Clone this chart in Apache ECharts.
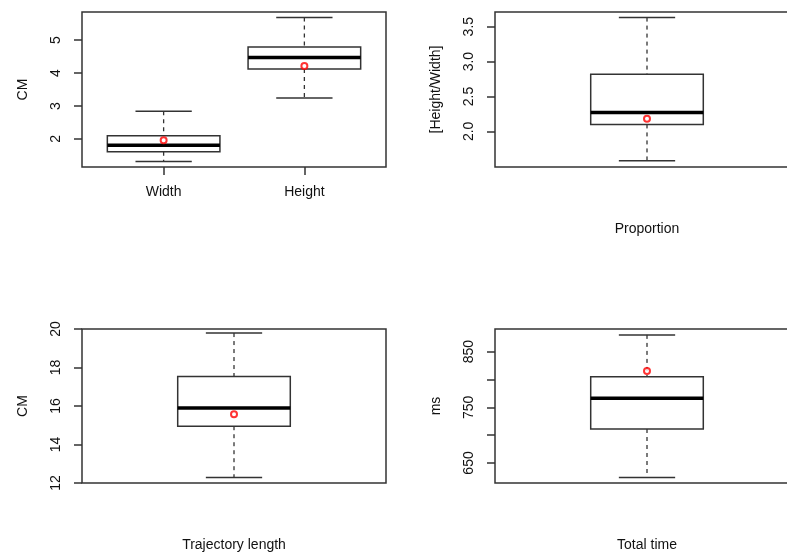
<!DOCTYPE html>
<html>
<head>
<meta charset="utf-8">
<script src="https://cdn.jsdelivr.net/npm/echarts@6/dist/echarts.min.js"></script>
<style>
  html, body { margin: 0; background: #fff; }
  #chart { width: 787px; height: 559px; }
</style>
</head>
<body>
<div id="chart"></div>
<script>
// five-number summaries: [lower whisker, Q1, median, Q3, upper whisker]
const sizeGroups = ['Width', 'Height'];
const sizeStats = [[1.32, 1.61, 1.81, 2.10, 2.84], [3.24, 4.12, 4.47, 4.79, 5.68]];
const sizeMeans = [1.96, 4.21];
const sizeTicks = [2, 3, 4, 5];

const proportionStats = [1.58, 2.10, 2.27, 2.82, 3.63];
const proportionMean = 2.18;
const proportionTicks = [2.0, 2.5, 3.0, 3.5];

const lengthStats = [12.28, 14.95, 15.90, 17.53, 19.79];
const lengthMean = 15.57;
const lengthTicks = [12, 14, 16, 18, 20];

const timeStats = [624, 711, 766, 805, 880];
const timeMean = 815;
const timeTicks = [650, 700, 750, 800, 850];
const timeLabels = [650, 750, 850];

const font = '"Liberation Sans", Arial, sans-serif';
const ink = '#111';
const frame = '#333';
const lw = 1.5;

// R style box: dashed whiskers, solid caps, thick median
function renderBox(params, api) {
    const x = api.value(0);
    const [lo, q1, med, q3, hi] = [1, 2, 3, 4, 5].map(i => api.coord([x, api.value(i)]));
    const half = api.size([0.8, 0])[0] / 2;
    const cap = half / 2;
    const cx = lo[0];
    const solid = { stroke: frame, lineWidth: lw };
    const dashed = { stroke: frame, lineWidth: 1.3, lineDash: [4, 4] };
    return {
        type: 'group',
        children: [
            { type: 'line', shape: { x1: cx, y1: hi[1], x2: cx, y2: q3[1] }, style: dashed },
            { type: 'line', shape: { x1: cx, y1: q1[1], x2: cx, y2: lo[1] }, style: dashed },
            { type: 'line', shape: { x1: cx - cap, y1: hi[1], x2: cx + cap, y2: hi[1] }, style: solid },
            { type: 'line', shape: { x1: cx - cap, y1: lo[1], x2: cx + cap, y2: lo[1] }, style: solid },
            { type: 'rect', shape: { x: cx - half, y: q3[1], width: 2 * half, height: q1[1] - q3[1] },
              style: { fill: '#fff', stroke: frame, lineWidth: lw } },
            { type: 'line', shape: { x1: cx - half, y1: med[1], x2: cx + half, y2: med[1] },
              style: { stroke: '#000', lineWidth: 3.5 } }
        ]
    };
}

function yAxis(gridIndex, min, max, ticks, labels, name, fmt) {
    return {
        gridIndex, type: 'value', min, max,
        axisLine: { show: false, onZero: false },
        splitLine: { show: false },
        axisTick: { show: true, length: 8, customValues: ticks, lineStyle: { color: frame, width: lw } },
        axisLabel: {
            customValues: labels, rotate: 90, margin: 19,
            fontSize: 14, color: ink, fontFamily: font,
            formatter: fmt || (v => String(v))
        },
        name, nameLocation: 'middle', nameGap: 52,
        nameTextStyle: { fontSize: 14, color: ink, fontFamily: font }
    };
}

function xAxis(gridIndex, min, max, name) {
    return {
        gridIndex, type: 'value', min, max,
        axisLine: { show: false, onZero: false },
        splitLine: { show: false },
        axisTick: { show: false },
        axisLabel: { show: false },
        name, nameLocation: 'middle', nameGap: 55,
        nameTextStyle: { fontSize: 14, color: ink, fontFamily: font }
    };
}

function boxSeries(i, rows) {
    return {
        type: 'custom', xAxisIndex: i, yAxisIndex: i,
        renderItem: renderBox,
        encode: { x: 0, y: [1, 2, 3, 4, 5] },
        data: rows,
        silent: true
    };
}

function meanSeries(i, points) {
    return {
        type: 'scatter', xAxisIndex: i, yAxisIndex: i,
        symbol: 'circle', symbolSize: 6, z: 5,
        itemStyle: { color: '#fff', borderColor: '#ff0000', borderWidth: 2 },
        data: points,
        silent: true
    };
}

const gridBase = { show: true, borderColor: frame, borderWidth: lw, backgroundColor: 'transparent',
                   containLabel: false, outerBoundsMode: 'none' };

const sizeX = xAxis(0, 0.42, 2.58, '');
sizeX.axisTick = { show: true, length: 8, customValues: [1, 2], lineStyle: { color: frame, width: lw } };
sizeX.axisLabel = { show: true, customValues: [1, 2], margin: 18, fontSize: 14, color: ink,
                    fontFamily: font, formatter: v => sizeGroups[Math.round(v) - 1] };

const option = {
    animation: false,
    grid: [
        { ...gridBase, left: 82, top: 12, width: 304, height: 155 },
        { ...gridBase, left: 495, top: 12, width: 304, height: 155 },
        { ...gridBase, left: 82, top: 329, width: 304, height: 154 },
        { ...gridBase, left: 495, top: 329, width: 304, height: 154 }
    ],
    xAxis: [
        sizeX,
        xAxis(1, -0.08, 2.08, 'Proportion'),
        xAxis(2, -0.08, 2.08, 'Trajectory length'),
        xAxis(3, -0.08, 2.08, 'Total time')
    ],
    yAxis: [
        yAxis(0, 1.15, 5.85, sizeTicks, sizeTicks, 'CM'),
        yAxis(1, 1.49, 3.71, proportionTicks, proportionTicks, '[Height/Width]', v => v.toFixed(1)),
        yAxis(2, 12, 20, lengthTicks, lengthTicks, 'CM'),
        yAxis(3, 614, 890.6, timeTicks, timeLabels, 'ms')
    ],
    series: [
        boxSeries(0, sizeStats.map((s, k) => [k + 1, ...s])),
        meanSeries(0, sizeMeans.map((m, k) => [k + 1, m])),
        boxSeries(1, [[1, ...proportionStats]]),
        meanSeries(1, [[1, proportionMean]]),
        boxSeries(2, [[1, ...lengthStats]]),
        meanSeries(2, [[1, lengthMean]]),
        boxSeries(3, [[1, ...timeStats]]),
        meanSeries(3, [[1, timeMean]])
    ]
};

const chart = echarts.init(document.getElementById('chart'), null, { renderer: 'canvas' });
chart.setOption(option);
window.addEventListener('resize', chart.resize);
</script>
</body>
</html>
